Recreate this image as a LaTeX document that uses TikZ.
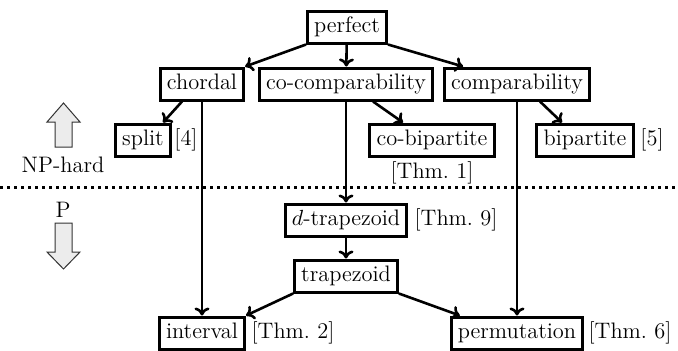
\documentclass[tikz,border=0pt]{standalone}
\usepackage{amsmath}
\usepackage{xcolor}
\usetikzlibrary{arrows.meta}

\begin{document}
\begin{tikzpicture}[x=0.5pt,y=-0.5pt]
		\tikzset{cls/.style={draw,line width=1.5pt,inner xsep=3.3pt,inner ysep=3pt,text height=7.8pt,text depth=2.2pt,font=\fontsize{11.2}{13}\selectfont},
			ref/.style={inner sep=0pt,font=\fontsize{11.2}{13}\selectfont},
			arr/.style={-{To[length=4pt,width=7.5pt]},line width=1.3pt},
			fatarrow/.style={draw=black!80,line width=0.5pt,fill=gray!15}}
		\useasboundingbox (0,0) rectangle (678,350);
		% classes
		\node (perfect) at (347,27) [cls] {perfect};
		\node (chordal) at (202,84) [cls] {chordal};
		\node (cocomp) at (346,84) [cls] {co-comparability};
		\node (comp) at (517,84) [cls] {comparability};
		\node (split) at (143,140) [cls] {split};
		\node (cobip) at (432,140) [cls] {co-bipartite};
		\node (bip) at (585,140) [cls] {bipartite};
		\node (dtrap) at (346,220) [cls] {$d$-trapezoid};
		\node (trap) at (346,276) [cls] {trapezoid};
		\node (interval) at (202,333) [cls] {interval};
		\node (perm) at (517,333) [cls] {permutation};
		% references
		\node (splitref) at (186,140) [ref] {[4]};
		\node (cobipref) at (432,173) [ref] {[Thm.~1]};
		\node (bipref) at (652,140) [ref] {[5]};
		\node (dtrapref) at (456,220) [ref] {[Thm.~9]};
		\node (intref) at (293,333) [ref] {[Thm.~2]};
		\node (permref) at (630,333) [ref] {[Thm.~6]};
		% complexity border
		\draw[line width=1.5pt,dash pattern=on 1.5pt off 2pt] (0,187) -- (678,187);
		\node (nphard) at (63,165) [ref] {NP-hard};
		\node (poly) at (63,210) [ref] {P};
		\draw[fatarrow] (55,147) -- (55,122) -- (47,122) -- (63.5,103) -- (80,122) -- (72,122) -- (72,147) -- cycle;
		\draw[fatarrow] (55,223) -- (55,252) -- (47,252) -- (63.5,269) -- (80,252) -- (72,252) -- (72,223) -- cycle;
		% inclusions
		\path[arr] (perfect.south west) edge (chordal.north east)
			(perfect) edge (cocomp)
			(perfect.south east) edge ([xshift=10pt]comp.north west)
			([xshift=-10pt]chordal.south) edge ([xshift=10pt]split.north)
			(chordal) edge (interval)
			([xshift=13.5pt]cocomp.south) edge ([xshift=-14.5pt]cobip.north)
			(cocomp) edge (dtrap)
			([xshift=11.5pt]comp.south) edge ([xshift=-11.5pt]bip.north)
			(comp) edge (perm)
			(dtrap) edge (trap)
			(trap.south west) edge (interval.north east)
			(trap.south east) edge ([xshift=5pt]perm.north west);
	\end{tikzpicture}
\end{document}
